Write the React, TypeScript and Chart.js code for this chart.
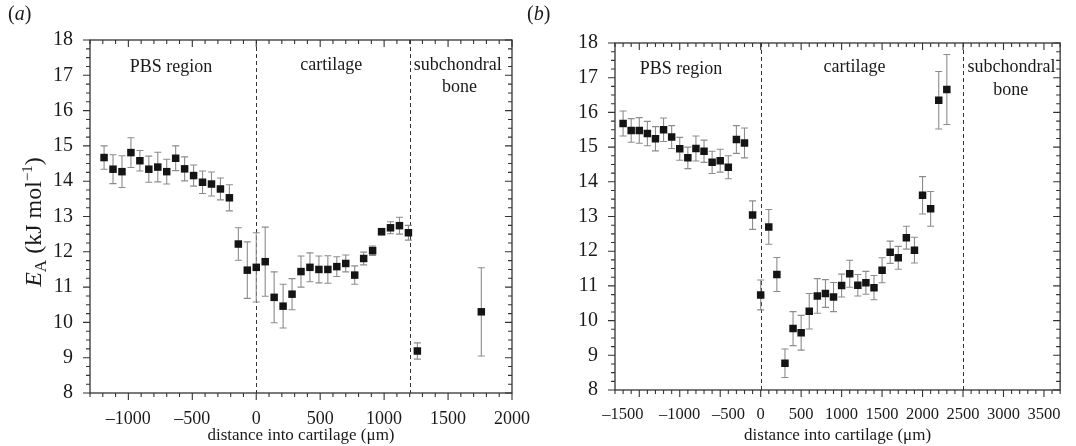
import React, { useEffect, useRef } from 'react';
import { Chart, registerables } from 'chart.js';

Chart.register(...registerables);

const FONT = "'Liberation Serif', 'Times New Roman', Times, serif";
Chart.defaults.font.family = FONT;

// ---------------- Panel (a) data ----------------
const distA = [
  -1190, -1120, -1050, -980, -910, -840, -770, -700, -630, -560, -490, -420, -350, -280, -210, -140, -70,
  0, 70, 140, 210, 280, 350, 420, 490, 560, 630, 700, 770, 840, 910, 980, 1050, 1120, 1190,
  1260, 1760,
];
const eaA = [
  14.67, 14.34, 14.27, 14.81, 14.58, 14.34, 14.4, 14.27, 14.65, 14.35, 14.16, 13.97, 13.92, 13.78, 13.53, 12.22, 11.48,
  11.56, 11.72, 10.71, 10.46, 10.8, 11.44, 11.56, 11.5, 11.5, 11.58, 11.67, 11.34, 11.81, 12.03, 12.57, 12.68, 12.74, 12.54,
  9.19, 10.3,
];
const errA = [
  0.33, 0.41, 0.45, 0.42, 0.29, 0.37, 0.42, 0.35, 0.35, 0.34, 0.3, 0.32, 0.34, 0.31, 0.37, 0.46, 0.8,
  0.98, 0.98, 0.72, 0.62, 0.44, 0.44, 0.41, 0.38, 0.39, 0.28, 0.24, 0.26, 0.18, 0.13, 0.09, 0.17, 0.24, 0.21,
  0.23, 1.25,
];
const xTicksA = [-1000, -500, 0, 500, 1000, 1500, 2000];
const boundariesA = [0, 1200];

// ---------------- Panel (b) data ----------------
const distB = [
  -1700, -1600, -1500, -1400, -1300, -1200, -1100, -1000, -900, -800, -700, -600, -500, -400, -300, -200, -100,
  0, 100, 200, 300, 400, 500, 600, 700, 800, 900, 1000, 1100, 1200, 1300, 1400, 1500, 1600, 1700, 1800, 1900,
  2000, 2100, 2200, 2300,
];
const eaB = [
  15.68, 15.48, 15.48, 15.39, 15.24, 15.5, 15.29, 14.95, 14.69, 14.96, 14.88, 14.56, 14.61, 14.42, 15.22, 15.12, 13.04,
  10.74, 12.7, 11.33, 8.77, 9.77, 9.65, 10.27, 10.71, 10.78, 10.68, 11.01, 11.35, 11.02, 11.09, 10.95, 11.45, 11.97,
  11.81, 12.39, 12.03, 13.61, 13.22, 16.35, 16.66,
];
const errB = [
  0.36, 0.34, 0.37, 0.35, 0.35, 0.34, 0.33, 0.33, 0.31, 0.36, 0.32, 0.32, 0.33, 0.33, 0.4, 0.43, 0.41,
  0.43, 0.5, 0.49, 0.41, 0.49, 0.5, 0.51, 0.5, 0.4, 0.42, 0.33, 0.39, 0.31, 0.33, 0.35, 0.36, 0.32,
  0.33, 0.33, 0.37, 0.54, 0.5, 0.83, 1.01,
];
const xTicksB = [-1500, -1000, -500, 0, 500, 1000, 1500, 2000, 2500, 3000, 3500];
const boundariesB = [0, 2500];

// shared
const yTicks = [8, 9, 10, 11, 12, 13, 14, 15, 16, 17, 18];
const regionNames = ['PBS region', 'cartilage', 'subchondral', 'bone'];

const EN_SPACE = '\u2002';

// ---------------- plugins ----------------
const errorBarsPlugin = {
  id: 'errorBars',
  beforeDatasetsDraw(chart: any, _args: any, opts: any) {
    const { ctx } = chart;
    const xs = chart.scales.x;
    const ys = chart.scales.y;
    const errs: number[] = opts.errors || [];
    const data = chart.data.datasets[0].data as { x: number; y: number }[];
    ctx.save();
    ctx.strokeStyle = '#8c8c8c';
    ctx.lineWidth = 1.1;
    data.forEach((p, i) => {
      const px = xs.getPixelForValue(p.x);
      const t = ys.getPixelForValue(p.y + errs[i]);
      const b = ys.getPixelForValue(p.y - errs[i]);
      ctx.beginPath();
      ctx.moveTo(px, t);
      ctx.lineTo(px, b);
      ctx.moveTo(px - 3.5, t);
      ctx.lineTo(px + 3.5, t);
      ctx.moveTo(px - 3.5, b);
      ctx.lineTo(px + 3.5, b);
      ctx.stroke();
    });
    ctx.restore();
  },
};

const boundaryPlugin = {
  id: 'boundaries',
  beforeDatasetsDraw(chart: any, _args: any, opts: any) {
    const { ctx, chartArea } = chart;
    const xs = chart.scales.x;
    ctx.save();
    ctx.strokeStyle = '#333';
    ctx.lineWidth = 1;
    ctx.setLineDash([4, 3]);
    (opts.values || []).forEach((v: number) => {
      const px = Math.round(xs.getPixelForValue(v)) + 0.5;
      ctx.beginPath();
      ctx.moveTo(px, chartArea.top);
      ctx.lineTo(px, chartArea.bottom);
      ctx.stroke();
    });
    ctx.restore();
  },
};

const regionPlugin = {
  id: 'regions',
  afterDraw(chart: any, _args: any, opts: any) {
    const { ctx } = chart;
    const xs = chart.scales.x;
    const ys = chart.scales.y;
    ctx.save();
    ctx.fillStyle = '#1a1a1a';
    ctx.font = `18px ${FONT}`;
    ctx.textAlign = 'center';
    ctx.textBaseline = 'middle';
    (opts.labels || []).forEach((l: { text: string; x: number; y: number }) => {
      ctx.fillText(l.text, xs.getPixelForValue(l.x), ys.getPixelForValue(l.y));
    });
    ctx.restore();
  },
};

const framePlugin = {
  id: 'frame',
  afterDraw(chart: any, _args: any, opts: any) {
    const { ctx, chartArea } = chart;
    const { left, right, top, bottom } = chartArea;
    const xs = chart.scales.x;
    const ys = chart.scales.y;
    ctx.save();
    ctx.strokeStyle = '#333';
    ctx.lineWidth = 1.3;
    ctx.strokeRect(left, top, right - left, bottom - top);
    ctx.lineWidth = 1.1;
    ctx.beginPath();
    const xMinor = opts.xMinor;
    const xMajor = opts.xMajor;
    const nx0 = Math.ceil(xs.min / xMinor);
    const nx1 = Math.floor(xs.max / xMinor);
    for (let n = nx0; n <= nx1; n++) {
      const v = n * xMinor;
      const px = xs.getPixelForValue(v);
      const major = Math.abs(v / xMajor - Math.round(v / xMajor)) < 1e-6;
      const len = major ? 7 : 4;
      ctx.moveTo(px, bottom);
      ctx.lineTo(px, bottom + len);
      ctx.moveTo(px, top);
      ctx.lineTo(px, top + len);
    }
    const yMinor = opts.yMinor;
    const ny0 = Math.ceil(ys.min / yMinor);
    const ny1 = Math.floor(ys.max / yMinor);
    for (let n = ny0; n <= ny1; n++) {
      const v = n * yMinor;
      const py = ys.getPixelForValue(v);
      const major = Math.abs(v - Math.round(v)) < 1e-6;
      const len = major ? 7 : 4;
      ctx.moveTo(left, py);
      ctx.lineTo(left - len, py);
      ctx.moveTo(right, py);
      ctx.lineTo(right - len, py);
    }
    ctx.stroke();
    ctx.restore();
  },
};

type PanelProps = {
  dist: number[];
  ea: number[];
  err: number[];
  xTicks: number[];
  boundaries: number[];
  xMin: number;
  xMax: number;
  xMinor: number;
  regions: { text: string; x: number; y: number }[];
  width: number;
  left: number;
  padTop: number;
  padRight: number;
  yWidth: number;
  xHeight: number;
  xFontSize: number;
  labelNudge?: (v: number) => [number, number];
};

function fmt(v: number) {
  return v < 0 ? '\u2013' + Math.abs(v) : String(v);
}

function Panel(p: PanelProps) {
  const ref = useRef<HTMLCanvasElement | null>(null);
  useEffect(() => {
    if (!ref.current) return;
    const chart = new Chart(ref.current, {
      type: 'scatter',
      data: {
        datasets: [
          {
            data: p.dist.map((d, i) => ({ x: d, y: p.ea[i] })),
            pointStyle: 'rect',
            pointRadius: 5.3,
            pointHoverRadius: 5.3,
            backgroundColor: '#141414',
            borderWidth: 0,
          },
        ],
      },
      options: {
        animation: false,
        responsive: true,
        maintainAspectRatio: false,
        events: [],
        layout: { padding: { top: p.padTop, right: p.padRight, left: 0, bottom: 0 } },
        plugins: {
          legend: { display: false },
          tooltip: { enabled: false },
          errorBars: { errors: p.err },
          boundaries: { values: p.boundaries },
          regions: { labels: p.regions },
          frame: { xMinor: p.xMinor, xMajor: 500, yMinor: 0.25 },
        } as any,
        scales: {
          x: {
            type: 'linear',
            min: p.xMin,
            max: p.xMax,
            afterBuildTicks: (s: any) => {
              s.ticks = p.xTicks.map((v) => ({ value: v }));
            },
            afterFit: (s: any) => {
              s.height = p.xHeight;
            },
            ticks: {
              font: { family: FONT, size: p.xFontSize },
              color: '#1a1a1a',
              padding: 15,
              maxRotation: 0,
              autoSkip: false,
              callback: (v: any) => {
                const n = Number(v);
                const [lead, trail] = p.labelNudge ? p.labelNudge(n) : [0, 0];
                return EN_SPACE.repeat(lead) + fmt(n) + EN_SPACE.repeat(trail);
              },
            },
            grid: { display: false, drawTicks: false },
            border: { display: false },
            title: {
              display: true,
              text: 'distance into cartilage (\u03bcm)',
              font: { family: FONT, size: 17 },
              color: '#1a1a1a',
              padding: 0,
            },
          },
          y: {
            type: 'linear',
            min: 8,
            max: 18,
            afterBuildTicks: (s: any) => {
              s.ticks = yTicks.map((v) => ({ value: v }));
            },
            afterFit: (s: any) => {
              s.width = p.yWidth;
            },
            ticks: {
              font: { family: FONT, size: 20 },
              color: '#1a1a1a',
              padding: 17,
            },
            grid: { display: false, drawTicks: false },
            border: { display: false },
          },
        },
      },
      plugins: [boundaryPlugin, errorBarsPlugin, regionPlugin, framePlugin],
    });
    let alive = true;
    const fonts: any = (document as any).fonts;
    if (fonts && fonts.load) {
      Promise.all([
        fonts.load("18px 'Liberation Serif'"),
        fonts.load("italic 18px 'Liberation Serif'"),
      ])
        .then(() => {
          if (alive) chart.update();
        })
        .catch(() => {});
    }
    return () => {
      alive = false;
      chart.destroy();
    };
  }, []);
  return (
    <div style={{ position: 'absolute', left: p.left, top: 0, width: p.width, height: 446 }}>
      <canvas ref={ref} />
    </div>
  );
}

// the reference figure's negative tick labels on panel (b) are set slightly off their ticks
const nudgeB = (v: number): [number, number] => {
  if (v === -1500) return [0, 4];
  if (v === -500) return [2, 0];
  return [0, 0];
};

export default function App() {
  const serif = { fontFamily: FONT, color: '#1a1a1a' };
  return (
    <div style={{ position: 'fixed', left: 0, top: 0, width: 1076, height: 446, background: '#fff', overflow: 'hidden' }}>
      <Panel
        dist={distA}
        ea={eaA}
        err={errA}
        xTicks={xTicksA}
        boundaries={boundariesA}
        xMin={-1300}
        xMax={2000}
        xMinor={100}
        regions={[
          { text: regionNames[0], x: -666, y: 17.24 },
          { text: regionNames[1], x: 587, y: 17.28 },
          { text: regionNames[2], x: 1575, y: 17.28 },
          { text: regionNames[3], x: 1590, y: 16.66 },
        ]}
        width={545}
        left={0}
        padTop={40}
        padRight={20}
        yWidth={90}
        xHeight={53}
        xFontSize={18}
      />
      <Panel
        dist={distB}
        ea={eaB}
        err={errB}
        xTicks={xTicksB}
        boundaries={boundariesB}
        xMin={-1800}
        xMax={3700}
        xMinor={100}
        regions={[
          { text: regionNames[0], x: -985, y: 17.25 },
          { text: regionNames[1], x: 1158, y: 17.3 },
          { text: regionNames[2], x: 3100, y: 17.3 },
          { text: regionNames[3], x: 3090, y: 16.65 },
        ]}
        width={531}
        left={545}
        padTop={43}
        padRight={15}
        yWidth={70}
        xHeight={56}
        xFontSize={16.5}
        labelNudge={nudgeB}
      />
      <div style={{ ...serif, position: 'absolute', left: 8, top: 2, fontSize: 20 }}>
        (<i>a</i>)
      </div>
      <div style={{ ...serif, position: 'absolute', left: 527, top: 2, fontSize: 20 }}>
        (<i>b</i>)
      </div>
      <div
        style={{
          ...serif,
          position: 'absolute',
          left: 34,
          top: 222,
          fontSize: 24,
          whiteSpace: 'nowrap',
          transform: 'translate(-50%, -50%) rotate(-90deg)',
          lineHeight: 1,
        }}
      >
        <i>E</i>
        <sub style={{ fontSize: 17, verticalAlign: '-5px' }}>A</sub> (kJ mol
        <sup style={{ fontSize: 15, verticalAlign: '9px' }}>{'\u22121'}</sup>)
      </div>
    </div>
  );
}
